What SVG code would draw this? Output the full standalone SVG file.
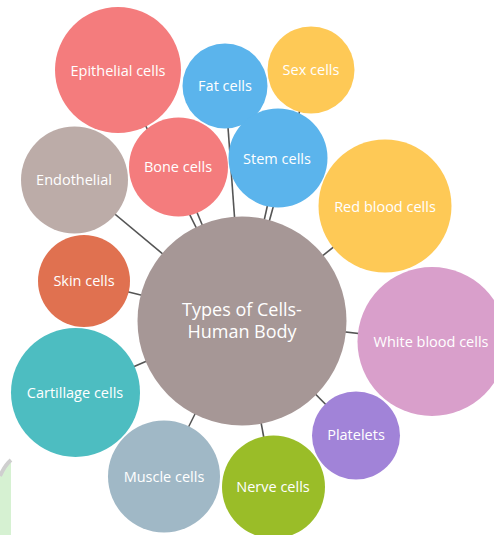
<svg xmlns="http://www.w3.org/2000/svg" width="494" height="535" viewBox="0 0 494 535">
<style>
.lbl{font-family:"Open Sans","Noto Sans","DejaVu Sans",sans-serif;font-size:14.5px;fill:#ffffff;text-anchor:middle}
.big{font-family:"Open Sans","Noto Sans","DejaVu Sans",sans-serif;font-size:18px;fill:#ffffff;text-anchor:middle}
.con line{stroke:#555555;stroke-width:1.6}
</style>
<rect width="494" height="535" fill="#ffffff"/>
<g id="watermark">
<path d="M0,476 Q5,465 11,460 L11,535 L0,535 Z" fill="#d6f1d2"/>
<path d="M0,476 Q5,465 11,460" fill="none" stroke="#cfcfcf" stroke-width="4"/>
</g>
<g class="con" id="connectors">
<line x1="242" y1="320" x2="118" y2="70"/>
<line x1="242" y1="320" x2="178" y2="167"/>
<line x1="242" y1="320" x2="225" y2="86"/>
<line x1="242" y1="320" x2="311" y2="70"/>
<line x1="242" y1="320" x2="278" y2="158"/>
<line x1="242" y1="320" x2="385" y2="206"/>
<line x1="242" y1="320" x2="74" y2="180"/>
<line x1="242" y1="320" x2="84" y2="281"/>
<line x1="242" y1="320" x2="75" y2="392"/>
<line x1="242" y1="320" x2="164" y2="476"/>
<line x1="242" y1="320" x2="273" y2="487"/>
<line x1="242" y1="320" x2="356" y2="435"/>
<line x1="242" y1="320" x2="432" y2="342"/>
</g>
<g id="epithelial"><circle cx="118" cy="70" r="63" fill="#f47c7d"/><text class="lbl" x="118" y="76">Epithelial cells</text></g>
<g id="fat"><circle cx="225" cy="86" r="42.5" fill="#5bb4ec"/><text class="lbl" x="225" y="91">Fat cells</text></g>
<g id="sex"><circle cx="311" cy="70" r="43.5" fill="#fec956"/><text class="lbl" x="311" y="75">Sex cells</text></g>
<g id="stem"><circle cx="278" cy="158" r="49.5" fill="#5bb4ec"/><text class="lbl" x="277" y="164">Stem cells</text></g>
<g id="red"><circle cx="385" cy="206" r="66.5" fill="#fec956"/><text class="lbl" x="385" y="212">Red blood cells</text></g>
<g id="bone"><circle cx="178.5" cy="167" r="49.5" fill="#f47c7d"/><text class="lbl" x="178" y="172">Bone cells</text></g>
<g id="endothelial"><circle cx="74.5" cy="180" r="53.5" fill="#bcaca8"/><text class="lbl" x="74" y="185">Endothelial</text></g>
<g id="skin"><circle cx="84" cy="281" r="46" fill="#e07150"/><text class="lbl" x="84" y="286">Skin cells</text></g>
<g id="cartilage"><circle cx="75.5" cy="392.5" r="64.5" fill="#4dbdc1"/><text class="lbl" x="75" y="398">Cartillage cells</text></g>
<g id="muscle"><circle cx="164" cy="476.5" r="56" fill="#a0b8c6"/><text class="lbl" x="164" y="482">Muscle cells</text></g>
<g id="nerve"><circle cx="273.5" cy="487" r="51.5" fill="#9abd28"/><text class="lbl" x="273" y="492">Nerve cells</text></g>
<g id="platelets"><circle cx="356" cy="435.5" r="44" fill="#a183d8"/><text class="lbl" x="356" y="440">Platelets</text></g>
<g id="white"><circle cx="432" cy="341.5" r="74.5" fill="#d99fcb"/><text class="lbl" x="431" y="347">White blood cells</text></g>
<g id="center"><circle cx="242" cy="321" r="104.5" fill="#a69796"/><text class="big" x="242" y="316">Types of Cells-</text><text class="big" x="242" y="338">Human Body</text></g>
</svg>
